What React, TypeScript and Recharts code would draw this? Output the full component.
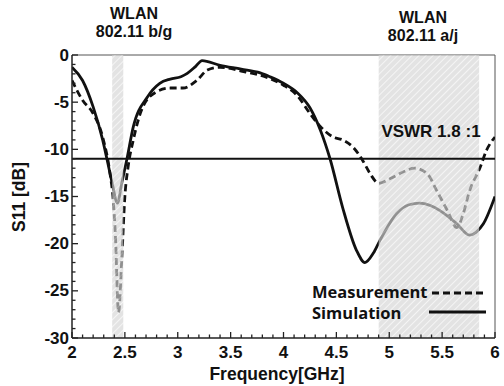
import React from 'react';
import { LineChart, Line, XAxis, YAxis, ReferenceArea, ReferenceLine } from 'recharts';

// simulated S11 (solid)
const simFreq = [2.0, 2.1, 2.2, 2.29, 2.33, 2.38, 2.43, 2.47, 2.52, 2.58, 2.71, 2.83, 2.93, 3.03, 3.09, 3.17, 3.23, 3.4, 3.6, 3.78, 3.87, 4.0, 4.13, 4.25, 4.35, 4.44, 4.56, 4.69, 4.77, 4.85, 4.91, 5.07, 5.18, 5.29, 5.4, 5.48, 5.64, 5.76, 5.82, 5.89, 6.0];
const simS11 = [-1.3, -2.7, -5.5, -9.0, -11.0, -13.6, -15.7, -13.6, -11.0, -7.6, -4.5, -3.0, -2.55, -2.3, -1.95, -1.2, -0.6, -1.1, -1.5, -1.9, -2.3, -3.0, -4.0, -5.6, -8.0, -11.0, -16.2, -20.7, -22.0, -21.0, -19.7, -16.8, -15.9, -15.7, -16.0, -16.5, -17.9, -19.1, -18.8, -17.9, -15.0];

// measured S11 (dashed)
const measFreq = [2.0, 2.1, 2.2, 2.29, 2.36, 2.39, 2.41, 2.44, 2.47, 2.5, 2.53, 2.58, 2.67, 2.8, 2.93, 3.05, 3.18, 3.28, 3.4, 3.6, 3.87, 4.0, 4.13, 4.25, 4.35, 4.47, 4.56, 4.66, 4.75, 4.82, 4.9, 5.01, 5.13, 5.24, 5.36, 5.45, 5.55, 5.64, 5.7, 5.76, 5.86, 5.92, 6.0];
const measS11 = [-2.7, -4.8, -6.2, -8.7, -12.6, -15.4, -19.0, -27.3, -21.8, -15.0, -11.9, -9.0, -5.5, -3.9, -3.5, -3.5, -2.7, -1.6, -1.3, -1.7, -2.5, -3.2, -4.3, -6.2, -7.6, -8.7, -9.0, -9.8, -11.2, -12.6, -13.6, -13.1, -12.4, -12.0, -12.6, -14.4, -16.5, -18.3, -16.8, -14.4, -11.9, -10.1, -8.7];

const xMajor = [2, 2.5, 3, 3.5, 4, 4.5, 5, 5.5, 6];
const yMajor = [-30, -25, -20, -15, -10, -5, 0];
const bandBG = [2.38, 2.485];
const bandA = [4.9, 5.85];
const vswrLimit = -11;

const simData = simFreq.map((f, i) => ({ f, v: simS11[i] }));
const measData = measFreq.map((f, i) => ({ f, v: measS11[i] }));

// minor ticks every 0.1 GHz / 1 dB
const xTicks: number[] = [];
for (let i = 0; i <= 40; i++) xTicks.push(Math.round((2 + i * 0.1) * 10) / 10);
const yTicks: number[] = [];
for (let i = -30; i <= 0; i++) yTicks.push(i);

const font = '"Liberation Sans", Arial, sans-serif';
const isMajorX = (v: number) => xMajor.some((m) => Math.abs(m - v) < 1e-6);
const isMajorY = (v: number) => yMajor.includes(v);

const XTick = (props: any) => {
  const { x, y, payload } = props;
  const major = isMajorX(payload.value);
  return (
    <g>
      <line x1={x} x2={x} y1={y} y2={y - (major ? 6 : 3.5)} stroke="#222" strokeWidth={1.3} />
      {major && (
        <text x={x} y={y + 20} textAnchor="middle" fontFamily={font} fontWeight="bold" fontSize={17} fill="#111">
          {payload.value}
        </text>
      )}
    </g>
  );
};

const YTick = (props: any) => {
  const { x, y, payload } = props;
  const major = isMajorY(payload.value);
  return (
    <g>
      <line x1={x} x2={x + (major ? 6 : 3.5)} y1={y} y2={y} stroke="#222" strokeWidth={1.3} />
      {major && (
        <text x={x - 3} y={y + 5.5} textAnchor="end" fontFamily={font} fontWeight="bold" fontSize={17} fill="#111">
          {payload.value}
        </text>
      )}
    </g>
  );
};

const App: React.FC = () => {
  return (
    <div style={{ position: 'absolute', left: 0, top: 0, width: 504, height: 386, background: '#fff' }}>
      <LineChart width={504} height={386} data={simData} margin={{ top: 55, right: 9, bottom: 0, left: 0 }}>
        <defs>
          <pattern id="hatch" width="5" height="5" patternUnits="userSpaceOnUse" patternTransform="rotate(45)">
            <rect width="5" height="5" fill="#d4d4d4" />
            <line x1="0" y1="0" x2="0" y2="5" stroke="#f2f2f2" strokeWidth="1.8" />
          </pattern>
        </defs>
        <XAxis
          dataKey="f"
          type="number"
          domain={[2, 6]}
          ticks={xTicks}
          interval={0}
          allowDataOverflow
          height={48}
          tickSize={0}
          tickMargin={0}
          tickLine={false}
          tick={<XTick />}
          axisLine={{ stroke: '#222', strokeWidth: 1.5 }}
        />
        <YAxis
          dataKey="v"
          type="number"
          domain={[-30, 0]}
          ticks={yTicks}
          interval={0}
          allowDataOverflow
          width={72}
          tickSize={0}
          tickMargin={0}
          tickLine={false}
          tick={<YTick />}
          axisLine={{ stroke: '#222', strokeWidth: 1.5 }}
        />
        <ReferenceLine y={0} stroke="#555" strokeWidth={1} />
        <ReferenceLine x={6} stroke="#555" strokeWidth={1} />
        <Line
          data={measData}
          dataKey="v"
          type="monotone"
          stroke="#111"
          strokeWidth={2.8}
          strokeDasharray="7 4"
          dot={false}
          isAnimationActive={false}
        />
        <Line
          data={simData}
          dataKey="v"
          type="monotone"
          stroke="#111"
          strokeWidth={2.8}
          dot={false}
          isAnimationActive={false}
        />
        <ReferenceArea x1={bandBG[0]} x2={bandBG[1]} y1={-30} y2={0} fill="url(#hatch)" fillOpacity={0.65} stroke="none" zIndex={450} />
        <ReferenceArea x1={bandA[0]} x2={bandA[1]} y1={-30} y2={0} fill="url(#hatch)" fillOpacity={0.65} stroke="none" zIndex={450} />
        <ReferenceLine y={vswrLimit} stroke="#111" strokeWidth={2} zIndex={460} />
      </LineChart>
      <svg width={504} height={386} style={{ position: 'absolute', left: 0, top: 0, pointerEvents: 'none' }}>
        <g fontFamily={font} fontWeight="bold" fill="#111">
          <text x={134} y={19} textAnchor="middle" fontSize={16}>WLAN</text>
          <text x={134} y={37} textAnchor="middle" fontSize={16}>802.11 b/g</text>
          <text x={423} y={23} textAnchor="middle" fontSize={16}>WLAN</text>
          <text x={423} y={41} textAnchor="middle" fontSize={16}>802.11 a/j</text>
          <text x={431} y={137} textAnchor="middle" fontSize={17}>VSWR 1.8 :1</text>
          <text x={277} y={380} textAnchor="middle" fontSize={17.5}>Frequency[GHz]</text>
          <text x={25} y={197} textAnchor="middle" fontSize={17.5} transform="rotate(-90 25 197)">S11 [dB]</text>
        </g>
        <g fontFamily='"Open Sans", sans-serif' fontWeight="bold" fill="#111" fontSize={16.5}>
          <text x={312} y={298}>Measurement</text>
          <text x={312} y={319}>Simulation</text>
        </g>
        <line x1={432} x2={486} y1={293} y2={293} stroke="#111" strokeWidth={3} strokeDasharray="7 4" />
        <line x1={429} x2={486} y1={312} y2={312} stroke="#111" strokeWidth={3.2} />
      </svg>
    </div>
  );
};

export default App;
